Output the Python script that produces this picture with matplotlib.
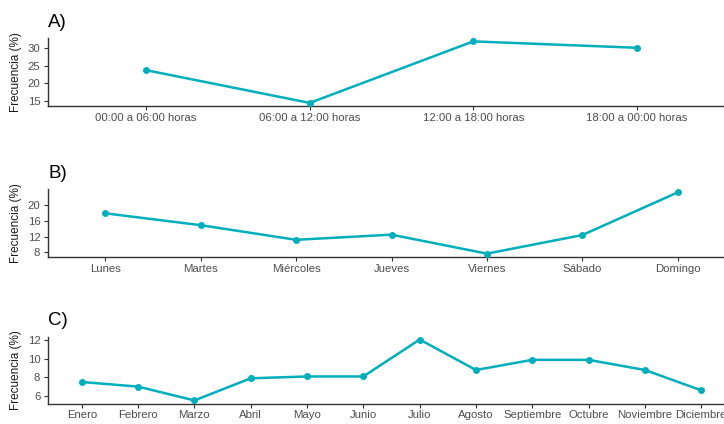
import matplotlib
matplotlib.use("Agg")
import matplotlib.pyplot as plt

plt.rcParams['font.family'] = ['Liberation Sans', 'DejaVu Sans']

# Frecuencia por franja horaria
franjas = ["00:00 a 06:00 horas", "06:00 a 12:00 horas",
           "12:00 a 18:00 horas", "18:00 a 00:00 horas"]
frec_franja = [23.7, 14.5, 31.8, 30.0]
ticks_franja = [15, 20, 25, 30]

# Frecuencia por día de la semana
dias = ["Lunes", "Martes", "Miércoles", "Jueves", "Viernes", "Sábado", "Domingo"]
frec_dia = [17.9, 14.9, 11.2, 12.5, 7.7, 12.4, 23.2]
ticks_dia = [8, 12, 16, 20]

# Frecuencia por mes
meses = ["Enero", "Febrero", "Marzo", "Abril", "Mayo", "Junio", "Julio",
         "Agosto", "Septiembre", "Octubre", "Noviembre", "Diciembre"]
frec_mes = [7.5, 7.0, 5.5, 7.9, 8.1, 8.1, 12.1, 8.8, 9.9, 9.9, 8.8, 6.6]
ticks_mes = [6, 8, 10, 12]

LINE = "#00AFBB"
TXT = "#4D4D4D"
W, H = 724, 424
LEFT, RIGHT = 48, 735

fig = plt.figure(figsize=(W / 100, H / 100), dpi=100)


def panel(top_px, bottom_px, etiqueta, cats, vals, yticks):
    ax = fig.add_axes([LEFT / W, 1 - bottom_px / H,
                       (RIGHT - LEFT) / W, (bottom_px - top_px) / H])
    x = list(range(len(cats)))
    ax.plot(x, vals, color=LINE, lw=1.8, marker="o", ms=4, zorder=3)
    ax.set_xlim(-0.6, len(cats) - 0.4)
    ax.margins(y=0.05)
    ax.set_xticks(x)
    ax.set_xticklabels(cats)
    ax.set_yticks(yticks)
    for s in ("top", "right"):
        ax.spines[s].set_visible(False)
    for s in ("left", "bottom"):
        ax.spines[s].set_color("#333333")
        ax.spines[s].set_linewidth(1.0)
    ax.tick_params(axis="both", colors="#333333", labelcolor=TXT,
                   labelsize=8.2, length=3, width=0.8, pad=2.5)
    ax.tick_params(axis="x", pad=2)
    ax.set_ylabel("Frecuencia (%)", fontsize=8.5, color="#1a1a1a")
    ax.yaxis.set_label_coords(-26 / (RIGHT - LEFT), 0.5)
    fig.text(LEFT / W, 1 - (top_px - 16) / H, etiqueta, fontsize=13.5,
             ha="left", va="center", color="black")
    return ax


panel(38.3, 106, "A)", franjas, frec_franja, ticks_franja)
panel(189.3, 256.7, "B)", dias, frec_dia, ticks_dia)
panel(336.5, 403.5, "C)", meses, frec_mes, ticks_mes)

fig.savefig("out.png", dpi=100)
